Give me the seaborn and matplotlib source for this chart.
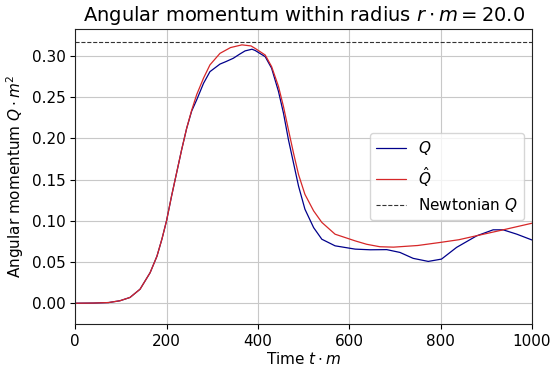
import matplotlib
matplotlib.use("Agg")
import matplotlib.pyplot as plt
import seaborn as sns

# Values
t_q = [0, 40, 73, 98, 120, 142, 164, 179, 190, 200, 211, 222, 233, 244, 255,
       266, 281, 295, 317, 330, 346, 360, 372, 387, 394, 416, 430, 445, 456,
       467, 478, 489, 503, 522, 540, 569, 613, 646, 682, 711, 740, 773, 802,
       835, 879, 915, 937, 967, 1000]
q = [0.0, 0.0002, 0.0008, 0.003, 0.007, 0.017, 0.037, 0.057, 0.078, 0.100, 0.130,
     0.158, 0.186, 0.212, 0.233, 0.2466, 0.2667, 0.2808, 0.290, 0.293, 0.297,
     0.302, 0.306, 0.308, 0.3065, 0.299, 0.285, 0.257, 0.2305, 0.198, 0.170,
     0.142, 0.114, 0.0917, 0.0776, 0.0696, 0.0656, 0.0648, 0.0650, 0.0616,
     0.0544, 0.0507, 0.0535, 0.0677, 0.0817, 0.089, 0.089, 0.0837, 0.0767]

t_qhat = [0, 40, 73, 98, 120, 142, 164, 179, 190, 200, 211, 222, 233, 244, 255,
          266, 281, 295, 317, 340, 365, 385, 394, 416, 430, 445, 456, 467, 478,
          489, 503, 522, 540, 569, 613, 638, 667, 697, 750, 799, 840, 872, 937, 1000]
q_hat = [0.0, 0.0002, 0.0008, 0.003, 0.007, 0.017, 0.037, 0.057, 0.078, 0.100, 0.130,
         0.158, 0.186, 0.212, 0.234, 0.253, 0.273, 0.289, 0.303, 0.310, 0.3133,
         0.312, 0.309, 0.301, 0.287, 0.263, 0.2385, 0.210, 0.182, 0.156, 0.132,
         0.112, 0.098, 0.0837, 0.0756, 0.0715, 0.0685, 0.068, 0.070, 0.0737,
         0.077, 0.081, 0.089, 0.097]

q_newton = 0.3165
radius = 20.0

sns.set_style("ticks", {"axes.grid": True, "grid.color": "#c8c8c8",
                        "axes.edgecolor": "#222222", "text.color": "black",
                        "axes.labelcolor": "black", "xtick.color": "black",
                        "ytick.color": "black"})
plt.rcParams["font.family"] = ["DejaVu Sans"]
plt.rcParams["mathtext.fontset"] = "dejavusans"

fig, ax = plt.subplots(figsize=(5.57, 3.68), dpi=100)
fig.subplots_adjust(left=0.135, right=0.955, top=0.92, bottom=0.12)

sns.lineplot(x=t_q, y=q, ax=ax, color="darkblue", linewidth=0.9, label="$Q$")
sns.lineplot(x=t_qhat, y=q_hat, ax=ax, color="tab:red", linewidth=0.9, label=r"$\hat{Q}$")
ax.axhline(q_newton, color="#333333", linestyle="--", linewidth=0.8, label="Newtonian $Q$")

ax.set_xlim(0, 1000)
ax.set_ylim(-0.025, 0.332)
ax.set_xticks([0, 200, 400, 600, 800, 1000])
ax.set_yticks([0.0, 0.05, 0.10, 0.15, 0.20, 0.25, 0.30])
ax.set_yticklabels(["0.00", "0.05", "0.10", "0.15", "0.20", "0.25", "0.30"])
ax.tick_params(labelsize=11, length=3.5, pad=3.5)
for s in ax.spines.values():
    s.set_linewidth(0.8)
    s.set_visible(True)

ax.set_title(r"Angular momentum within radius $r \cdot m = %.1f$" % radius, fontsize=14)
ax.set_xlabel(r"Time $t \cdot m$", fontsize=11, labelpad=2)
ax.set_ylabel(r"Angular momentum $Q \cdot m^2$", fontsize=11)
ax.legend(loc="center right", fontsize=11)

plt.savefig("out.png", dpi=100)
